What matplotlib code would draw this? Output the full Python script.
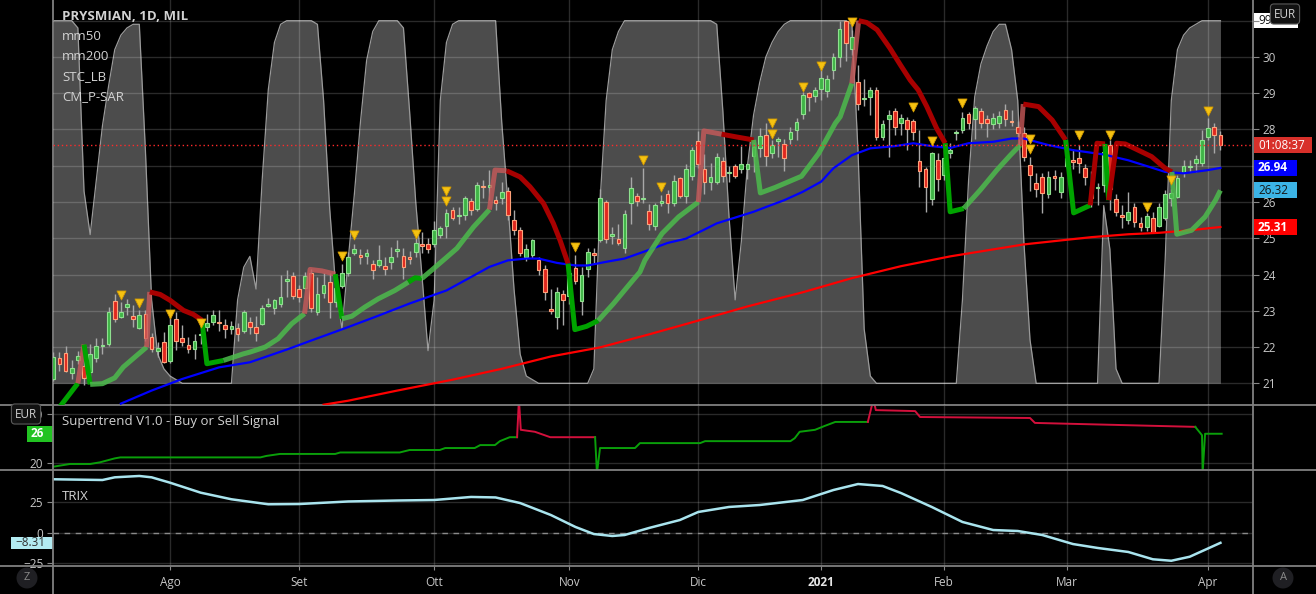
import numpy as np
import pandas as pd
import matplotlib
matplotlib.use('Agg')
import matplotlib.pyplot as plt
from matplotlib.lines import Line2D
from matplotlib.patches import Rectangle

plt.rcParams['font.family'] = ['Open Sans', 'DejaVu Sans']

# trading days (Borsa Italiana)
holidays = ['2020-12-24', '2020-12-25', '2020-12-31', '2021-01-01', '2021-04-02', '2021-04-05']
dates = pd.bdate_range('2020-07-07', '2021-04-07')
dates = dates[~dates.isin(pd.to_datetime(holidays))]

opens = [21.13, 21.69, 21.83, 21.28, 21.65, 21.49, 21.31, 21.69, 22.02, 22.09,
         23.26, 22.83, 23.10, 22.85, 22.52, 22.90, 22.29, 21.89, 22.15, 21.61,
         22.78, 22.26, 22.06, 21.94, 22.33, 22.55, 22.69, 22.68, 22.62, 22.50,
         22.53, 22.45, 22.69, 22.55, 22.64, 23.13, 23.08, 23.18, 23.82, 23.97,
         23.61, 23.64, 24.03, 22.97, 23.49, 23.78, 23.24, 23.67, 24.03, 24.60,
         24.55, 24.50, 24.30, 24.25, 24.23, 24.35, 24.64, 24.50, 24.48, 24.62,
         24.85, 24.83, 24.83, 25.08, 25.35, 25.77, 25.60, 25.63, 26.03, 25.82,
         26.45, 26.42, 26.05, 26.12, 26.30, 25.50, 25.24, 24.48, 24.53, 24.39,
         24.16, 23.04, 22.83, 23.47, 23.41, 24.19, 23.27, 24.14, 24.58, 24.96,
         25.99, 25.07, 24.97, 24.74, 25.96, 26.17, 26.07, 25.75, 25.33, 25.98,
         26.21, 25.98, 26.65, 26.17, 26.72, 27.69, 26.90, 26.54, 26.56, 27.14,
         26.79, 26.99, 26.91, 26.90, 27.27, 27.48, 27.86, 27.36, 27.69, 27.60,
         27.73, 27.98, 28.44, 29.00, 28.93, 29.11, 29.05, 29.63, 29.99, 30.98,
         30.21, 29.32, 28.85, 28.90, 29.09, 27.78, 28.30, 28.51, 28.17, 28.26,
         28.23, 27.14, 26.90, 26.07, 27.17, 26.75, 27.36, 27.90, 27.98, 28.42,
         28.28, 28.52, 28.30, 28.14, 28.17, 28.54, 28.24, 28.06, 27.89, 27.02,
         26.51, 26.68, 26.21, 26.73, 26.28, 26.98, 27.16, 27.20, 26.93, 26.45,
         26.38, 26.46, 27.57, 26.07, 25.64, 25.50, 25.85, 25.43, 25.30, 25.57,
         25.33, 25.56, 26.10, 26.14, 26.79, 26.96, 27.08, 27.08, 27.78, 28.06,
         27.86]
highs = [21.85, 21.86, 22.04, 21.63, 21.89, 21.63, 22.09, 22.26, 22.24, 23.10,
         23.47, 23.24, 23.32, 23.15, 23.01, 23.03, 22.38, 22.13, 22.41, 22.96,
         22.96, 22.60, 22.29, 22.37, 22.41, 22.90, 23.01, 23.01, 22.78, 22.73,
         22.66, 23.01, 22.83, 22.85, 23.15, 23.34, 23.33, 23.98, 24.12, 24.07,
         23.70, 24.07, 24.16, 23.93, 24.03, 24.03, 23.75, 24.28, 24.62, 24.85,
         24.69, 24.71, 24.39, 24.81, 24.48, 24.76, 24.96, 24.72, 24.65, 25.02,
         25.18, 25.02, 25.48, 25.35, 25.82, 25.85, 25.86, 26.16, 26.10, 26.56,
         26.60, 26.88, 26.16, 26.56, 26.42, 25.77, 25.32, 24.85, 24.99, 24.48,
         24.25, 23.61, 23.66, 23.58, 24.12, 24.53, 24.21, 24.73, 24.73, 26.37,
         26.05, 25.30, 25.39, 25.77, 26.69, 26.25, 26.93, 25.94, 25.96, 26.19,
         26.33, 26.74, 26.70, 27.04, 27.52, 27.96, 27.32, 27.07, 27.34, 27.25,
         26.99, 27.04, 27.54, 27.06, 27.62, 28.03, 28.17, 27.71, 27.80, 27.75,
         28.08, 28.31, 29.04, 29.04, 29.16, 29.78, 29.50, 30.10, 30.98, 31.02,
         30.75, 29.78, 29.38, 29.16, 29.16, 28.26, 28.54, 28.58, 28.42, 28.35,
         28.30, 27.98, 26.97, 27.39, 27.34, 27.43, 27.62, 27.98, 28.49, 28.49,
         28.65, 28.58, 28.40, 28.45, 28.50, 28.69, 28.54, 28.24, 28.08, 27.25,
         26.79, 26.80, 26.86, 26.87, 26.83, 27.43, 27.45, 27.57, 27.05, 26.86,
         26.53, 27.62, 27.71, 26.23, 25.91, 26.28, 25.96, 25.59, 25.70, 25.73,
         25.96, 26.33, 26.37, 26.74, 27.15, 27.17, 27.29, 27.98, 28.31, 28.17,
         27.95]
lows = [21.05, 21.35, 21.30, 21.13, 21.54, 20.94, 21.20, 21.60, 21.82, 22.04,
        22.70, 22.80, 22.87, 22.55, 22.50, 22.18, 21.85, 21.72, 21.55, 21.55,
        21.93, 22.04, 21.83, 21.68, 22.09, 22.45, 22.60, 22.45, 22.26, 22.35,
        22.18, 22.40, 22.37, 22.18, 22.60, 23.10, 22.92, 23.10, 23.38, 23.33,
        23.24, 23.60, 22.96, 22.87, 23.35, 22.81, 23.10, 23.62, 23.95, 24.53,
        24.30, 24.30, 23.89, 24.21, 23.98, 24.16, 24.48, 23.89, 24.30, 24.48,
        24.60, 24.60, 24.75, 25.00, 25.00, 25.50, 25.40, 25.50, 25.63, 25.75,
        26.10, 26.05, 25.77, 25.94, 25.50, 25.08, 24.50, 24.38, 24.45, 23.98,
        23.29, 22.92, 22.50, 22.62, 23.20, 23.75, 22.87, 23.93, 24.30, 24.90,
        24.87, 24.85, 24.81, 24.60, 25.40, 25.90, 25.97, 25.24, 25.22, 25.90,
        25.70, 25.90, 26.10, 25.98, 26.60, 26.95, 26.23, 26.33, 26.50, 26.56,
        26.56, 26.65, 26.80, 26.64, 26.83, 27.23, 27.00, 27.20, 27.25, 26.86,
        27.60, 27.70, 28.28, 28.51, 28.77, 28.81, 28.90, 29.40, 29.73, 29.90,
        30.06, 28.54, 28.65, 28.40, 27.70, 27.70, 27.25, 27.85, 27.85, 27.43,
        27.70, 26.42, 25.73, 25.91, 26.30, 26.60, 27.20, 27.70, 27.89, 28.00,
        27.75, 28.03, 27.80, 28.00, 28.05, 28.10, 28.10, 27.80, 27.14, 26.29,
        26.14, 25.70, 26.10, 26.33, 26.10, 26.93, 26.90, 26.80, 26.47, 25.86,
        25.92, 26.28, 25.77, 25.60, 25.27, 25.40, 25.30, 25.20, 25.20, 25.15,
        25.30, 25.50, 25.90, 26.10, 26.70, 26.84, 26.84, 27.00, 27.70, 27.34,
        27.43]
closes = [21.72, 21.52, 21.35, 21.43, 21.76, 21.15, 21.82, 22.02, 22.07, 22.98,
          22.78, 22.98, 23.18, 22.78, 22.87, 22.26, 21.95, 21.98, 21.58, 22.61,
          22.16, 22.14, 21.95, 22.18, 22.35, 22.66, 22.89, 22.65, 22.50, 22.57,
          22.37, 22.96, 22.55, 22.38, 23.09, 23.20, 23.29, 23.38, 23.87, 23.40,
          23.38, 23.95, 23.09, 23.47, 23.70, 23.24, 23.62, 24.03, 24.47, 24.69,
          24.48, 24.60, 24.13, 24.39, 24.15, 24.47, 24.70, 24.21, 24.44, 24.88,
          24.79, 24.69, 25.24, 25.27, 25.70, 25.57, 25.62, 26.10, 25.79, 26.46,
          26.40, 26.46, 25.96, 26.28, 25.64, 25.24, 24.60, 24.69, 24.94, 24.12,
          23.52, 22.99, 23.52, 23.31, 24.03, 23.82, 24.00, 24.62, 24.54, 26.12,
          24.99, 25.13, 24.88, 25.68, 26.39, 26.03, 26.10, 25.39, 25.93, 26.02,
          25.98, 26.57, 26.17, 26.90, 27.42, 27.05, 26.54, 26.68, 27.25, 26.71,
          26.83, 26.72, 27.06, 27.06, 27.51, 27.82, 27.27, 27.57, 27.73, 27.20,
          27.94, 28.20, 28.95, 28.89, 29.09, 29.41, 29.38, 30.00, 30.76, 30.38,
          30.54, 28.70, 28.88, 29.09, 27.80, 28.14, 28.39, 28.08, 28.32, 28.00,
          27.92, 26.86, 26.40, 27.34, 26.63, 27.20, 27.43, 27.94, 28.31, 28.19,
          28.58, 28.19, 28.17, 28.31, 28.38, 28.28, 28.20, 27.89, 27.23, 26.74,
          26.35, 26.25, 26.70, 26.65, 26.68, 27.20, 27.09, 27.07, 26.68, 26.10,
          26.42, 27.38, 26.37, 25.73, 25.59, 25.73, 25.45, 25.31, 25.62, 25.17,
          25.85, 26.21, 26.26, 26.65, 26.99, 26.99, 27.18, 27.71, 28.03, 27.85,
          27.57]

# STC_LB (0-100), one value per bar
stc = [100, 100, 100, 100, 98, 53, 41, 56, 71, 82, 92, 96, 98, 99, 99, 64, 23, 8, 4, 2, 1,
       0, 0, 0, 0, 0, 0, 0, 0, 0,
       23, 32, 35, 26, 56, 81, 94, 99,
       100, 100, 100, 100, 100, 99,
       78, 48, 26, 15, 34, 52, 72, 89, 97,
       100, 100, 100, 100, 98,
       75, 50, 30, 9, 23, 78, 94, 99,
       100, 100, 100, 100, 100, 100, 100,
       72, 50, 26, 8, 2, 1,
       0, 0, 0, 0, 0, 0, 0, 0, 0,
       4, 50, 78, 92, 97,
       100, 100, 100, 100, 100, 100, 100, 100, 100, 100, 100, 100, 100, 100, 100, 99,
       75, 46, 23, 39, 60, 74, 83, 90, 94, 97, 99,
       100, 100, 100, 100, 100, 100, 100, 100, 100, 100, 99,
       64, 15, 2,
       0, 0, 0, 0, 0, 0, 0, 0, 0, 0, 0, 0, 0, 0,
       23, 56, 79, 88, 93, 97, 99, 99, 92, 78, 39, 12,
       0, 0, 0, 0, 0, 0, 0, 0, 0, 0, 0,
       49, 37, 4,
       0, 0, 0, 0, 0, 0, 0,
       34, 78, 92, 96, 98, 99,
       100, 100, 100, 100]

# moving averages (read at sample bars)
mm50_idx = [11, 16, 21, 27, 32, 38, 42, 48, 53, 58, 64, 68, 71, 74, 77, 79, 82, 85, 87, 90,
            93, 96, 100, 103, 106, 108, 111, 114, 116, 119, 122, 125, 127, 130, 133, 137,
            140, 143, 146, 149, 153, 156, 158, 162, 166, 171, 175, 178, 181, 184, 188, 190]
mm50_val = [20.44, 20.80, 21.12, 21.44, 21.58, 21.93, 22.18, 22.55, 22.87, 23.20, 23.56,
            23.93, 24.21, 24.39, 24.44, 24.44, 24.32, 24.25, 24.25, 24.35, 24.44, 24.62,
            24.87, 24.99, 25.24, 25.41, 25.57, 25.73, 25.86, 26.05, 26.28, 26.56, 26.93,
            27.29, 27.48, 27.54, 27.62, 27.54, 27.49, 27.62, 27.66, 27.75, 27.75, 27.57,
            27.43, 27.31, 27.15, 26.99, 26.83, 26.79, 26.88, 26.94]
mm200_idx = [44, 48, 56, 65, 73, 81, 89, 97, 105, 113, 122, 130, 138, 146, 154, 158, 164,
             169, 175, 180, 185, 190]
mm200_val = [20.41, 20.52, 20.80, 21.10, 21.40, 21.74, 21.99, 22.35, 22.73, 23.12, 23.51,
             23.90, 24.23, 24.50, 24.72, 24.83, 24.94, 25.03, 25.11, 25.15, 25.22, 25.31]

# CM_P-SAR trailing line: vertices and colour of the segment ending there
trail_idx = [0, 4, 5, 6, 8, 10, 11.4, 13.6, 15.2, 15.7, 17.4, 19, 21.2, 22.8, 24.2, 25, 27.7,
             30.9, 32, 34.5, 36.6, 38.8, 40.9, 41.8, 43.7, 45.9, 47, 48.6, 50.7, 52.9, 55.6,
             57.8, 58.9, 60, 61.6, 63.8, 65.7, 68.4, 71, 71.9, 73.8, 76, 77.6, 79.8, 81.4,
             82.5, 83.8, 84.9, 86.8, 88.7, 91.2, 93.9, 95.5, 96.3, 99.1, 101.8, 105, 105.9,
             108.8, 111, 114, 115.1, 117.5, 121.8, 124.6, 127.3, 128.1, 130, 131.1, 132.4,
             134.1, 136.2, 137.9, 139.5, 140.8, 142.2, 143.8, 145.2, 146, 148.2, 150.9,
             153.6, 155.8, 157.4, 157.9, 159, 160.4, 162.6, 164.8, 166.1, 168.8, 169.9,
             171.2, 171.8, 173.1, 174.5, 176.6, 178.8, 181, 182.1, 182.9, 185.3, 187.5,
             189.2, 190]
trail_val = [20.12, 21.00, 22.07, 20.97, 20.99, 21.15, 21.45, 21.77, 22.00, 23.52, 23.45,
             23.29, 23.01, 22.90, 22.74, 21.54, 21.63, 21.81, 21.86, 22.00, 22.23, 22.64,
             22.92, 24.14, 24.10, 24.01, 22.78, 22.85, 23.10, 23.33, 23.56, 23.79, 23.91,
             23.89, 24.12, 24.44, 24.72, 25.31, 25.79, 26.88, 26.86, 26.69, 26.42, 25.96,
             25.41, 24.94, 24.30, 22.48, 22.57, 22.73, 23.20, 23.75, 24.07, 24.39, 25.13,
             25.59, 26.00, 27.96, 27.87, 27.80, 27.71, 26.25, 26.40, 26.71, 27.34, 28.17,
             28.35, 29.27, 31.00, 30.95, 30.75, 30.24, 29.78, 29.36, 29.09, 28.63, 28.03,
             27.62, 25.73, 25.82, 26.33, 26.88, 27.29, 27.57, 28.70, 28.67, 28.63, 28.26,
             27.71, 25.70, 25.91, 27.62, 27.60, 26.05, 27.62, 27.60, 27.43, 27.25, 26.93,
             26.83, 25.11, 25.22, 25.59, 26.05, 26.32]
trail_col = ('GGrGggggg' + 'rRRRRR' + 'GGgggggg' + 'rrr' + 'Gggggg' + 'GGggggg'
             + 'rrRRRRRR' + 'GGGggggggg' + 'rrRR' + 'ggggggg' + 'rRRRRRRRRR'
             + 'GGgggg' + 'rRRRR' + 'GG' + 'RR' + 'G' + 'RRRRRR' + 'ggggg')

# sell-signal markers
tri_idx = [11, 14, 19, 24, 47, 49, 59, 64, 64, 85, 96, 99, 117, 117, 122, 125, 130, 140,
           143, 148, 159, 159, 167, 172, 178, 182, 188]
tri_val = [23.43, 23.22, 22.90, 22.65, 24.50, 25.08, 25.11, 26.31, 26.03, 24.76, 27.15,
           26.42, 28.19, 27.87, 29.16, 29.76, 30.95, 28.63, 27.69, 28.72, 27.75, 27.47,
           27.85, 27.85, 25.86, 26.62, 28.52]

# Supertrend V1.0
st_idx = [0, 2.7, 6, 7.6, 10, 10.9, 33.7, 34.7, 36.9, 45.9, 46.7, 56.4, 58, 62.9, 63.8, 68.6,
          69.5, 71.9, 72.7, 74.3, 75.5,
          75.8, 76.1, 78.4, 80.9, 88.2,
          88.5, 89, 94.7, 95.5, 105.3, 106.1, 120, 120.7, 121.5, 124, 125.6, 127.3, 132.6,
          133.5, 133.9, 140.3, 141.1, 159, 159.8, 185.9,
          187.0, 187.1, 187.5, 190.2]
st_val = [19.31, 19.86, 19.86, 20.2, 21.0, 21.2, 21.2, 21.5, 21.9, 21.9, 22.2, 22.2, 22.7,
          22.7, 23.1, 23.1, 23.7, 23.7, 24.5, 25.3, 25.3,
          33.0, 26.8, 26.4, 25.3, 25.3,
          18.0, 23.1, 23.1, 24.1, 24.1, 24.5, 24.5, 25.1, 26.4, 26.8, 27.6, 28.4, 28.4,
          33.0, 30.8, 30.6, 29.4, 29.2, 28.2, 27.4,
          25.7, 18.0, 26.0, 26.0]
st_col = 'g' * 21 + 'r' * 5 + 'g' * 13 + 'r' * 7 + 'g' * 4

# TRIX
trix_idx = [0, 8, 10, 14, 16, 19, 24, 29, 35, 40, 48, 56, 62, 68, 72, 76, 81, 85, 88, 91, 93,
            97, 102, 105, 110, 115, 122, 127, 131, 135, 138, 143, 148, 153, 157, 161, 166,
            170, 175, 179, 182, 185, 190]
trix_val = [43.8, 43.2, 45.4, 46.5, 45.4, 41.0, 32.8, 27.4, 23.3, 23.5, 25.6, 26.4, 26.8,
            29.3, 28.9, 24.3, 14.5, 4.7, -1.1, -2.7, -1.9, 3.9, 10.4, 17.0, 21.1, 22.7, 26.8,
            35.0, 39.9, 38.3, 32.5, 21.1, 8.8, 2.2, 1.4, -1.9, -9.3, -12.5, -15.8, -21.8,
            -23.0, -19.7, -8.31]

month_names = {1: '2021', 2: 'Feb', 3: 'Mar', 4: 'Apr', 8: 'Ago', 9: 'Set', 10: 'Ott',
               11: 'Nov', 12: 'Dic'}

# ---------------------------------------------------------------------------
W, H = 1316, 594
fig = plt.figure(figsize=(W / 100, H / 100), dpi=100, facecolor='black')
L, R = 53 / W, 1253 / W


def band(top, bot):
    return [L, 1 - bot / H, R - L, (bot - top) / H]


ax = fig.add_axes(band(0, 404.7))
ax_st = fig.add_axes(band(404.7, 470), sharex=ax)
ax_tx = fig.add_axes(band(470, 566), sharex=ax)
ax_bg = ax.twinx()
ax_bg.set_zorder(1)
ax.set_zorder(2)
ax.patch.set_visible(False)
ax_bg.set_facecolor('black')

x = np.arange(len(dates))
month_pos = [i for i in range(1, len(dates)) if dates[i].month != dates[i - 1].month]
month_lab = [month_names[dates[i].month] for i in month_pos]

tick_col = '#c8c8c8'
for a in (ax, ax_st, ax_tx, ax_bg):
    for s in a.spines.values():
        s.set_visible(False)
    a.set_facecolor('black')
ax.set_facecolor('none')

# STC background
ylo, yhi = 20.41, 31.57
ax.set_ylim(ylo, yhi)
ax_bg.set_ylim((ylo - 21) * 10, (yhi - 21) * 10)
ax_bg.fill_between(x, 0, stc, color='white', alpha=0.30, lw=0, zorder=1)
ax_bg.plot(x, stc, color='#9a9a9a', lw=0.9, zorder=2)
ax_bg.set_yticks([])

ax.set_xlim(-0.05, 195.3)
ax.set_xticks(month_pos)
ax.set_yticks(range(21, 32))
# 27 and 31 sit under the value tags on the right scale
ax.set_yticklabels([str(v) if v not in (27, 31) else '' for v in range(21, 32)])
ax.grid(True, color='white', alpha=0.17, lw=1)
ax.set_axisbelow(True)
ax.yaxis.tick_right()
ax.tick_params(axis='y', colors='#888888', labelcolor=tick_col, labelsize=8.5, length=4, pad=3)
ax.tick_params(axis='x', labelbottom=False, length=0)

# candles
o, h, l, c = (np.array(v) for v in (opens, highs, lows, closes))
up = c >= o
ax.vlines(x, l, h, color='#a8a8a8', lw=1, zorder=3)
body_lo = np.minimum(o, c)
body_h = np.maximum(np.abs(c - o), 0.03)
ax.bar(x[up], body_h[up], bottom=body_lo[up], width=0.62, color='#3fb447',
       edgecolor='#8fe08f', lw=0.8, zorder=4)
ax.bar(x[~up], body_h[~up], bottom=body_lo[~up], width=0.62, color='#e0281f',
       edgecolor='#ffa27a', lw=0.8, zorder=4)

# moving averages
ax.plot(mm200_idx, mm200_val, color='#ff0000', lw=1.6, zorder=5)
ax.plot(mm50_idx, mm50_val, color='#0000ff', lw=1.6, zorder=5)

# trailing line
tcols = {'g': ('#4cbb4c', 0.85), 'G': ('#00a300', 1.0), 'r': ('#c85a5a', 0.8),
         'R': ('#a80000', 1.0)}
start = 0
for k in range(1, len(trail_idx)):
    if k == len(trail_idx) - 1 or trail_col[k + 1] != trail_col[k]:
        cc, aa = tcols[trail_col[k]]
        ax.plot(trail_idx[start:k + 1], trail_val[start:k + 1], color=cc, alpha=aa, lw=3.6,
                solid_joinstyle='round', solid_capstyle='butt', zorder=6)
        start = k

ax.scatter(tri_idx, tri_val, marker='v', s=42, color='#f5c211', edgecolor='#d49b00',
           lw=0.6, zorder=7)
ax.axhline(closes[-1], color='#ff2a2a', ls=(0, (1, 2)), lw=1, zorder=6)

# Supertrend panel
ax_st.set_ylim(18.64, 31.9)
ax_st.set_yticks([20, 30])
ax_st.grid(True, color='white', alpha=0.17, lw=1)
ax_st.set_axisbelow(True)
ax_st.tick_params(axis='y', colors='#888888', labelcolor=tick_col, labelsize=8.5, length=4, pad=3)
ax_st.tick_params(axis='x', labelbottom=False, length=0)
scol = {'g': '#0a9f0a', 'r': '#d3103c'}
start = 0
for k in range(1, len(st_idx)):
    if k == len(st_idx) - 1 or st_col[k + 1] != st_col[k]:
        ax_st.plot(st_idx[start:k + 1], st_val[start:k + 1], color=scol[st_col[k]], lw=1.4)
        start = k

# TRIX panel
ax_tx.set_ylim(-27.3, 51.4)
ax_tx.set_yticks([-25, 0, 25])
ax_tx.set_yticklabels(['\u221225', '0', '25'])
ax_tx.grid(True, color='white', alpha=0.17, lw=1)
ax_tx.set_axisbelow(True)
ax_tx.axhline(0, color='#8a8a8a', ls=(0, (4, 4)), lw=1)
ax_tx.plot(trix_idx, trix_val, color='#a9e4ee', lw=1.8)
ax_tx.tick_params(axis='y', colors='#888888', labelcolor=tick_col, labelsize=8.5, length=4, pad=3)
ax_tx.set_xticks(month_pos)
ax_tx.set_xticklabels(month_lab)
ax_tx.tick_params(axis='x', colors='#888888', labelcolor=tick_col, labelsize=8.5, length=3, pad=4)
for t in ax_tx.get_xticklabels():
    if t.get_text() == '2021':
        t.set_fontweight('bold')
        t.set_color('#e6e6e6')


def tag(a, y, text, fc, tc, w, left=False, bold=True, hpx=16):
    bb = a.get_position()
    axw, axh = bb.width * W, bb.height * H
    y0, y1 = a.get_ylim()
    hh = hpx / axh * (y1 - y0)
    x0 = (1 + 1 / axw) if not left else -w / axw
    tr = a.get_yaxis_transform()
    a.add_patch(Rectangle((x0, y - hh / 2), w / axw, hh, transform=tr, fc=fc, ec='none',
                          clip_on=False, zorder=10))
    a.text(x0 + 4 / axw, y, text, transform=tr, ha='left', va='center', color=tc,
           fontsize=8.5, fontweight='bold' if bold else 'normal', clip_on=False, zorder=11)


tag(ax, closes[-1], '01:08:37', '#d8302a', 'white', 58, bold=False)
tag(ax, mm50_val[-1], '26.94', '#0000ff', 'white', 43)
tag(ax, trail_val[-1], '26.32', '#3cb4e6', '#151515', 43, bold=False)
tag(ax, mm200_val[-1], '25.31', '#ff0000', 'white', 43)
tag(ax_bg, stc[-1], '99.99', 'white', '#151515', 44, bold=False, hpx=15)
tag(ax_st, 26, '26', '#22c322', 'white', 26, left=True)
tag(ax_tx, trix_val[-1], '\u22128.31', '#b2ebf2', '#303030', 42, left=True, bold=False, hpx=12)

# legends
txt = '#d2d2d2'
fig.text(62 / W, 1 - 16 / H, 'PRYSMIAN, 1D, MIL', color=txt, fontsize=9.5, fontweight='bold', va='center')
for k, name in enumerate(['mm50', 'mm200', 'STC_LB', 'CM_P-SAR']):
    fig.text(62 / W, 1 - (37 + 20 * k) / H, name, color=txt, fontsize=9.5, va='center')
fig.text(62 / W, 1 - 421 / H, 'Supertrend V1.0 - Buy or Sell Signal', color=txt, fontsize=9.5, va='center')
fig.text(62 / W, 1 - 497 / H, 'TRIX', color=txt, fontsize=9.5, va='center')

# currency badges and corner buttons
badge = dict(boxstyle='round,pad=0.3,rounding_size=0.3', fc='#121212', ec='#5a5a5a', lw=0.8)
fig.text(1285 / W, 1 - 14 / H, 'EUR', color='#d0d0d0', fontsize=8.5, ha='center', va='center', bbox=badge)
fig.text(26 / W, 1 - 414 / H, 'EUR', color='#d0d0d0', fontsize=8.5, ha='center', va='center', bbox=badge)
circ = dict(boxstyle='circle,pad=0.45', fc='#1f1f23', ec='none')
fig.text(27 / W, 1 - 578 / H, 'Z', color='#8a8a8a', fontsize=8, ha='center', va='center', bbox=circ)
fig.text(1283 / W, 1 - 578 / H, 'A', color='#8a8a8a', fontsize=8, ha='center', va='center', bbox=circ)

# panel separators
sep = '#808080'
for yy in (404.7, 470, 566):
    fig.add_artist(Line2D([0, 1], [1 - yy / H] * 2, color=sep, lw=1.3))
for xx in (53, 1253):
    fig.add_artist(Line2D([xx / W] * 2, [0, 1], color=sep, lw=1.3))

fig.savefig('out.png', dpi=100, facecolor='black')
